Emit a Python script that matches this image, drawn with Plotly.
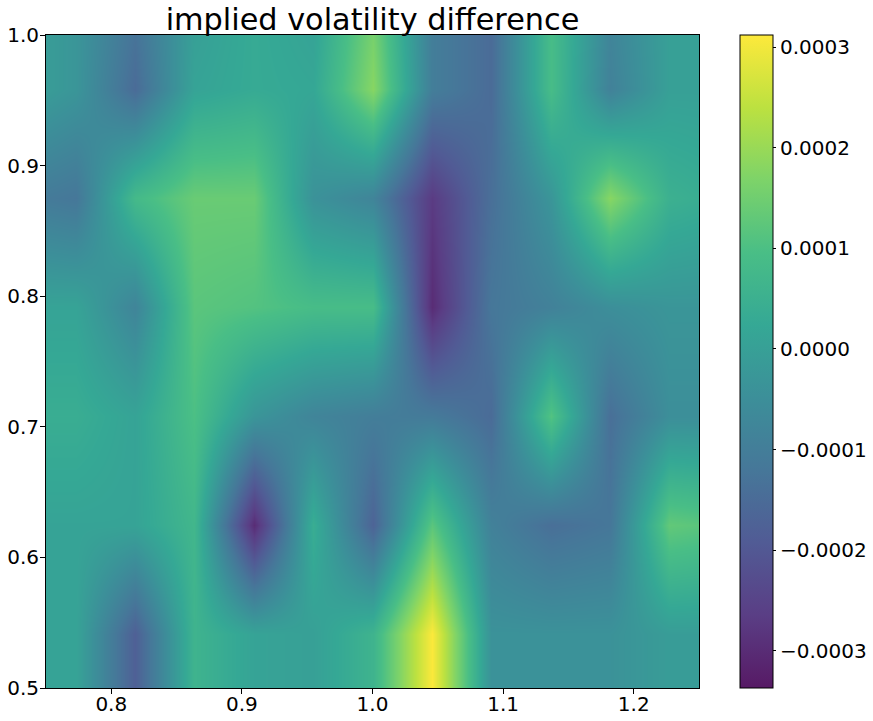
import plotly.graph_objects as go

# grid the surface was sampled on
x_vals = [0.75, 0.7727, 0.8182, 0.8636, 0.9091, 0.9545, 1.0, 1.0455, 1.0909, 1.1364, 1.1818, 1.2273, 1.25]
y_vals = [0.5, 0.5417, 0.625, 0.7083, 0.7917, 0.875, 0.9583, 1.0]

# units of 1e-4, bottom row first
row_050 = [0.1, 0.1, -1.8, 0.6, 0.1, 0.0, 0.6, 3.1, -0.4, -0.4, -0.4, -0.1, -0.1]
row_054 = [0.1, 0.1, -1.8, 0.6, 0.1, 0.0, 0.6, 3.1, -0.4, -0.4, -0.4, -0.1, -0.1]
row_062 = [0.1, 0.1, 0.1, 0.7, -3.0, 0.4, -1.7, 1.2, -0.9, -1.4, -1.2, 1.3, 1.2]
row_071 = [0.4, 0.4, 0.1, 1.0, -0.3, -0.8, -1.0, -1.1, -1.5, 1.1, -1.4, -0.5, -0.5]
row_079 = [0.1, 0.1, -0.8, 1.2, 1.1, 0.9, 0.9, -3.0, -1.2, -0.9, -0.5, -0.3, -0.3]
row_087 = [-1.1, -1.2, 0.8, 1.4, 1.4, -0.4, -0.8, -2.7, -1.4, -0.3, 1.8, 0.5, 0.4]
row_096 = [-0.1, -0.3, -1.5, 0.1, 0.3, 0.2, 1.8, -1.0, -1.5, 0.9, -0.9, 0.0, 0.0]
row_100 = [-0.1, -0.3, -1.3, 0.0, 0.3, 0.1, 1.6, -1.0, -1.5, 0.9, -0.8, 0.0, 0.0]

z_rows = [row_050, row_054, row_062, row_071, row_079, row_087, row_096, row_100]
z_vals = [[v * 1e-4 for v in row] for row in z_rows]

z_min = -0.000337
z_max = 0.000312

# viridis stops laid over white, the original is drawn with some alpha
viridis_faded = [
    '#571a65', '#5a3e85', '#515b95', '#467799', '#3c8f99',
    '#35a895', '#49be86', '#7dd369', '#bce140', '#fde93b',
]
cb_scale = [[i / 9, c] for i, c in enumerate(viridis_faded)]

fig = go.Figure()
fig.add_trace(go.Heatmap(
    x=x_vals, y=y_vals, z=z_vals,
    colorscale=cb_scale, zmin=z_min, zmax=z_max, zsmooth='best',
    colorbar=dict(
        thickness=33, lenmode='pixels', len=653, x=1.0626, xanchor='left', xpad=0, ypad=0,
        y=0.5, yanchor='middle',
        tickmode='array',
        tickvals=[-0.0003, -0.0002, -0.0001, 0.0, 0.0001, 0.0002, 0.0003],
        tickformat='.4f', ticks='outside', ticklen=3, tickcolor='black',
        outlinecolor='black', outlinewidth=1,
        tickfont=dict(size=20, color='black'),
    ),
))

axis_style = dict(
    showgrid=False, zeroline=False, showline=True, linecolor='black', linewidth=1, mirror=True,
    ticks='outside', ticklen=5, tickcolor='black', tickfont=dict(size=20, color='black'),
    tickformat='.1f', dtick=0.1, automargin=False,
)
fig.update_xaxes(range=[0.75, 1.25], tick0=0.8, ticklabelstandoff=-7, **axis_style)
fig.update_yaxes(range=[0.5, 1.0], tick0=0.5, ticklabelstandoff=-3, **axis_style)

fig.update_layout(
    width=873, height=721,
    margin=dict(l=46, r=174, t=35, b=33, autoexpand=False),
    paper_bgcolor='white', plot_bgcolor='white',
    font=dict(family='DejaVu Sans'),
    title=dict(text='implied volatility difference', font=dict(size=30.3, color='black'),
               xref='paper', x=0.5, xanchor='center', y=0.973, yanchor='middle'),
)

# drop the page's default body margin so the canvas fills the window
fig.write_html("out.html", config=dict(displayModeBar=False), post_script="document.body.style.margin = '0';")
